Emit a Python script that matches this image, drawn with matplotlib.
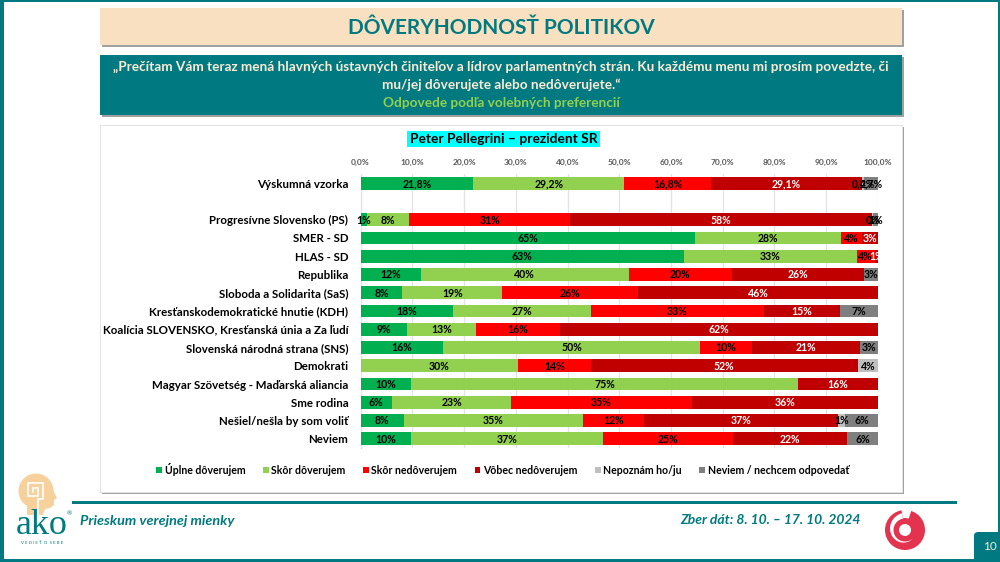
import matplotlib
matplotlib.use("Agg")

import matplotlib.pyplot as plt
import numpy as np
from matplotlib.patches import FancyBboxPatch, Polygon, Rectangle, Wedge, Circle

W, H = 1000, 562

TEAL = "#007A80"
CREAM = "#F8E0C0"
LOGO_PEACH = "#F6D19B"

categories = [
    "Výskumná vzorka",
    "",
    "Progresívne Slovensko (PS)",
    "SMER - SD",
    "HLAS - SD",
    "Republika",
    "Sloboda a Solidarita (SaS)",
    "Kresťanskodemokratické hnutie (KDH)",
    "Koalícia SLOVENSKO, Kresťanská únia a Za ľudí",
    "Slovenská národná strana (SNS)",
    "Demokrati",
    "Magyar Szövetség - Maďarská aliancia",
    "Sme rodina",
    "Nešiel/nešla by som voliť",
    "Neviem",
]

series_names = [
    "Úplne dôverujem",
    "Skôr dôverujem",
    "Skôr nedôverujem",
    "Vôbec nedôverujem",
    "Nepoznám ho/ju",
    "Neviem / nechcem odpovedať",
]
colors = ["#00B050", "#92D050", "#FF0000", "#C00000", "#BFBFBF", "#7F7F7F"]
label_colors = ["black", "black", "black", "white", "black", "black"]

uplne = [21.8, 0, 1.2, 64.55, 62.55, 11.6, 8.1, 17.9, 8.9, 15.9, 0, 9.8, 6.1, 8.4, 9.8]
skor = [29.2, 0, 8.2, 28.3, 33.3, 40.3, 19.3, 26.6, 13.4, 49.8, 30.5, 74.7, 23.0, 34.6, 37.0]
skor_ne = [16.8, 0, 31.1, 4.15, 3.55, 19.8, 26.3, 33.4, 16.2, 9.9, 14.0, 0, 34.9, 11.8, 25.2]
vobec = [29.1, 0, 58.3, 3.0, 0.6, 25.5, 46.3, 14.8, 61.5, 21.0, 51.6, 15.5, 36.0, 37.4, 22.0]
nepoznam = [0.4, 0, 0.3, 0, 0, 0, 0, 0, 0, 0, 3.9, 0, 0, 1.4, 0]
neviem = [2.7, 0, 0.9, 0, 0, 2.8, 0, 7.3, 0, 3.4, 0, 0, 0, 6.4, 6.0]

ticks = [0, 10, 20, 30, 40, 50, 60, 70, 80, 90, 100]


def px_rect(x, y, w, h):
    # pixel box (top-left origin) to figure fractions
    return [x / W, 1 - (y + h) / H, w / W, h / H]


def add_box(bg, x, y, w, h, color):
    bg.add_patch(Rectangle((x + 2, y + 2), w, h, facecolor="#A0A0A0", edgecolor="none"))
    bg.add_patch(Rectangle((x, y), w, h, facecolor=color, edgecolor="none"))


def add_logo(bg):
    # head: round skull plus jaw and neck
    bg.add_patch(Circle((36, 491), 17.5, facecolor=LOGO_PEACH, edgecolor="none"))
    jaw = [(48, 480), (53, 490), (57, 498), (54, 500), (54, 505), (50, 508), (45, 509),
           (43, 515), (27, 515), (27, 505)]
    bg.add_patch(Polygon(jaw, closed=True, facecolor=LOGO_PEACH, edgecolor="none"))
    xs = [38, 38, 43, 43, 28, 28, 38, 38, 33, 33]
    ys = [515, 499, 499, 483, 483, 496, 496, 488, 488, 492]
    bg.plot(xs, ys, color="white", lw=1.2, solid_joinstyle="miter")
    bg.text(42, 525, "ako", ha="center", va="center", fontsize=26, color=TEAL, family="Liberation Serif")
    bg.text(42, 543, "V E D I E Ť  O  S E B E", ha="center", va="center", fontsize=3.2, color=TEAL)
    bg.text(69, 514, "®", ha="center", va="center", fontsize=4.5, color=TEAL)


def add_swirl(bg):
    red = "#E4334E"
    cx, cy = 905, 530
    bg.add_patch(Circle((cx, cy), 20, facecolor=red, edgecolor="none"))
    # white gap that opens at the top and winds in around the left side
    bg.add_patch(Wedge((cx, cy), 22, -100, -72, width=10, facecolor="white", edgecolor="none"))
    a = np.radians(np.linspace(100, 310, 40))
    ro = np.linspace(17, 11.5, 40)
    outer = np.column_stack([cx + ro * np.cos(a), cy - ro * np.sin(a)])
    inner = np.column_stack([cx + 11.5 * np.cos(a), cy - 11.5 * np.sin(a)])
    bg.add_patch(Polygon(np.vstack([outer, inner[::-1]]), closed=True, facecolor="white", edgecolor="none"))
    bg.add_patch(Circle((cx, cy), 6, facecolor="white", edgecolor="none"))


plt.rcParams["font.family"] = ["Lato", "DejaVu Sans"]

fig = plt.figure(figsize=(10, 5.62), dpi=100)
fig.patch.set_facecolor("white")

bg = fig.add_axes([0, 0, 1, 1])
bg.set_xlim(0, W)
bg.set_ylim(H, 0)
bg.axis("off")

# slide frame
bg.add_patch(Rectangle((0, 0), W, 2, facecolor=TEAL, edgecolor="none"))
bg.add_patch(Rectangle((0, 0), 4, H, facecolor=TEAL, edgecolor="none"))
bg.add_patch(Rectangle((0, 559), W, 3, facecolor=TEAL, edgecolor="none"))
bg.add_patch(Rectangle((998, 0), 2, H, facecolor=TEAL, edgecolor="none"))

# header boxes
add_box(bg, 100, 8, 802, 37, CREAM)
bg.text(501, 28, "DÔVERYHODNOSŤ POLITIKOV", ha="center", va="center",
        fontsize=15, fontweight="bold", color=TEAL)

add_box(bg, 100, 55, 802, 60, TEAL)
bg.text(501, 67, "„Prečítam Vám teraz mená hlavných ústavných činiteľov a lídrov parlamentných strán. "
        "Ku každému menu mi prosím povedzte, či", ha="center", va="center",
        fontsize=9.8, fontweight="bold", color="#FBEBD5")
bg.text(501, 85, "mu/jej dôverujete alebo nedôverujete.“", ha="center", va="center",
        fontsize=9.8, fontweight="bold", color="#FBEBD5")
bg.text(501, 103, "Odpovede podľa volebných preferencií", ha="center", va="center",
        fontsize=9.8, fontweight="bold", color="#92D050")

# chart card
add_box(bg, 100, 125, 802, 367, "white")
bg.add_patch(Rectangle((100, 125), 802, 367, facecolor="none", edgecolor="#E4E4E4", lw=0.8))

bg.text(503.5, 139, "Peter Pellegrini – prezident SR", ha="center", va="center",
        fontsize=9.9, fontweight="bold", color="black",
        bbox=dict(facecolor="#00FFFF", edgecolor="none", pad=1.8))

# footer
bg.add_patch(Rectangle((72, 501), 885, 3, facecolor=TEAL, edgecolor="none"))
bg.text(80, 521, "Prieskum verejnej mienky", ha="left", va="center",
        fontsize=10.4, fontweight="bold", style="italic", color=TEAL)
bg.text(861, 520, "Zber dát: 8. 10. – 17. 10. 2024", ha="right", va="center",
        fontsize=10, fontweight="bold", style="italic", color=TEAL)
bg.add_patch(FancyBboxPatch((974, 532), 34, 40, boxstyle="round,pad=0,rounding_size=4",
                            facecolor=TEAL, edgecolor="none"))
bg.text(989.5, 547, "10", ha="center", va="center", fontsize=8.5, color="#FBEBD5")
add_logo(bg)
add_swirl(bg)
bg.set_xlim(0, W)
bg.set_ylim(H, 0)

# the chart
ax = fig.add_axes(px_rect(360.5, 174, 517.5, 274))
ax.patch.set_alpha(0)
series = [uplne, skor, skor_ne, vobec, nepoznam, neviem]
y = np.arange(len(categories))
left = np.zeros(len(categories))
for name, vals, color, lab_color in zip(series_names, series, colors, label_colors):
    vals = np.array(vals, dtype=float)
    ax.barh(y, vals, left=left, height=0.7, color=color, label=name, edgecolor="none", zorder=2)
    for i, v in enumerate(vals):
        if v <= 0:
            continue
        if i == 0:
            txt = f"{v:.1f}%".replace(".", ",")
        else:
            txt = f"{round(v):.0f}%"
        ax.text(left[i] + v / 2, i + 0.02, txt, ha="center", va="center",
                fontsize=7.6, fontweight="bold", color=lab_color, zorder=3)
    left += vals

ax.set_xlim(0, 100)
ax.set_ylim(len(categories) - 0.5, -0.5)
ax.xaxis.tick_top()
ax.set_xticks(ticks)
ax.set_xticklabels([f"{t},0%" for t in ticks], fontsize=6, fontweight="bold", color="#595959")
ax.tick_params(axis="x", length=0, pad=6)
ax.set_yticks(y)
ax.set_yticklabels(categories, fontsize=8.25, fontweight="bold", color="black")
ax.tick_params(axis="y", length=0, pad=8.8)
ax.grid(axis="x", color="#E3E3E3", lw=0.9, zorder=0)
for side in ["top", "right", "bottom"]:
    ax.spines[side].set_visible(False)
ax.spines["left"].set_color("#D9D9D9")
ax.spines["left"].set_zorder(1)

handles, labels = ax.get_legend_handles_labels()
leg = ax.legend(handles, labels, loc="center", ncol=6, frameon=False,
                bbox_to_anchor=(0.275, -0.077), prop=dict(size=7.6, weight="bold"),
                handlelength=0.55, handleheight=0.55, handletextpad=0.25, columnspacing=1.65)

fig.savefig("out.png", dpi=100)
plt.close(fig)
